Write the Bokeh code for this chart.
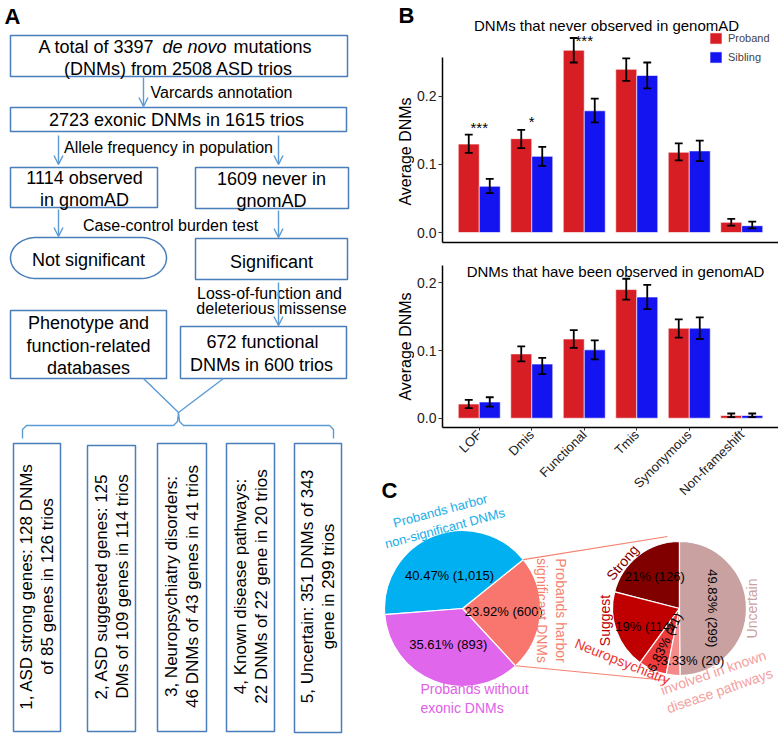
import math
import numpy as np
from bokeh.plotting import figure
from bokeh.layouts import row, column
from bokeh.models import (Range1d, FixedTicker, Legend, LegendItem,
                          Arrow, OpenHead, ColumnDataSource, PrintfTickFormatter)
from bokeh.core.properties import value
from bokeh.embed import file_html
from bokeh.resources import INLINE

FONT = "Liberation Sans"

# ---------------- data ----------------
categories = ["LOF", "Dmis", "Functional", "Tmis", "Synonymous", "Non-frameshift"]

never_proband = [0.130, 0.138, 0.268, 0.240, 0.118, 0.015]
never_proband_lo = [0.117, 0.124, 0.250, 0.223, 0.106, 0.010]
never_proband_hi = [0.144, 0.151, 0.286, 0.256, 0.131, 0.020]
never_sibling = [0.068, 0.112, 0.179, 0.231, 0.120, 0.010]
never_sibling_lo = [0.058, 0.098, 0.162, 0.212, 0.105, 0.006]
never_sibling_hi = [0.079, 0.126, 0.197, 0.250, 0.135, 0.016]

observed_proband = [0.021, 0.095, 0.117, 0.190, 0.133, 0.004]
observed_proband_lo = [0.015, 0.084, 0.104, 0.175, 0.119, 0.0015]
observed_proband_hi = [0.027, 0.106, 0.130, 0.206, 0.146, 0.007]
observed_sibling = [0.024, 0.080, 0.101, 0.179, 0.133, 0.004]
observed_sibling_lo = [0.017, 0.065, 0.087, 0.161, 0.117, 0.0015]
observed_sibling_hi = [0.031, 0.089, 0.115, 0.197, 0.149, 0.007]

significance = ["***", "*", "***", "", "", ""]
significance_y = [0.155, 0.163, 0.283, 0, 0, 0]

overview_labels = ["Probands harbor\nsignificant DNMs",
                   "Probands harbor\nnon-significant DNMs",
                   "Probands without\nexonic DNMs"]
overview_counts = [600, 1015, 893]
overview_colors = ["#f8766d", "#00b0f0", "#e066ec"]

sub_labels = ["Strong", "Suggest", "Neuropsychiatry",
              "involved in known\ndisease pathways", "Uncertain"]
sub_counts = [126, 114, 41, 20, 299]
sub_colors = ["#800000", "#c00000", "#ee3b3b", "#f48a8a", "#c9a1a1"]

RED = "#d81e25"
BLUE = "#1414f0"
BOX = "#4a7ebb"
ARW = "#5b9bd5"


def add_text(p, x, y, s, size, color="black", align="center", angle=0.0,
             style="normal", baseline="middle"):
    p.text(x=[x], y=[y], text=[s], text_font=value(FONT),
           text_font_size=value(f"{size}px"), text_color=color,
           text_align=align, text_baseline=baseline,
           angle=math.radians(angle), text_font_style=style)


def canvas(w, h, x0, x1, y0, y1, transparent=False):
    p = figure(width=w, height=h, x_range=Range1d(x0, x1), y_range=Range1d(y0, y1),
               x_axis_type=None, y_axis_type=None, output_backend="svg",
               toolbar_location=None, min_border=0, frame_align=False)
    p.grid.visible = False
    p.outline_line_color = None
    if transparent:
        p.background_fill_color = None
        p.border_fill_color = None
    return p


# ---------------- panel A : flow chart ----------------
def PA(y):
    return 740 - y


pa = canvas(380, 740, 0, 380, 0, 740)

box_l = [10, 10, 10, 195, 195, 10, 180, 13, 87, 157, 226, 294]
box_r = [347, 346, 157, 348, 347, 166, 346, 60, 135, 206, 274, 341]
box_t = [35, 107, 167, 167, 238, 310, 326, 443, 445, 443, 443, 443]
box_b = [76, 131, 207, 208, 279, 378, 378, 731, 731, 731, 731, 732]
pa.quad(left=box_l, right=box_r, top=[PA(v) for v in box_t],
        bottom=[PA(v) for v in box_b], fill_color=None, line_color=BOX, line_width=1.5)

# stadium "Not significant"
rx, ry = 26, 20.5
cyd = PA((237 + 278) / 2)
t1 = np.linspace(-np.pi / 2, np.pi / 2, 40)
t2 = np.linspace(np.pi / 2, 3 * np.pi / 2, 40)
sx = np.concatenate([(166 - rx) + rx * np.cos(t1), (10 + rx) + rx * np.cos(t2)])
sy = np.concatenate([cyd + ry * np.sin(t1), cyd + ry * np.sin(t2)])
pa.patch(sx, sy, fill_color=None, line_color=BOX, line_width=1.5)


def arrow(x0, y0, x1, y1):
    pa.add_layout(Arrow(end=OpenHead(size=9, line_color=ARW, line_width=1.4),
                        x_start=x0, y_start=PA(y0), x_end=x1, y_end=PA(y1),
                        line_color=ARW, line_width=1.4))


arrow(143, 77, 143, 106)
arrow(58, 135, 58, 164)
arrow(278, 135, 278, 164)
arrow(58, 209, 58, 236)
arrow(278, 210, 278, 237)
arrow(278, 282, 278, 325)

pa.line([143, 178, 223], [PA(378), PA(412), PA(378)], line_color=ARW, line_width=1.4)
bx = [22, 22, 26, 173, 177, 178, 179, 183, 329, 333, 333]
by = [438, 429, 425, 425, 421, 412, 421, 425, 425, 429, 438]
pa.line(bx, [PA(v) for v in by], line_color=ARW, line_width=1.4)

add_text(pa, 12, PA(16), "A", 22, style="bold")

add_text(pa, 38, PA(46), "A total of 3397 ", 18, align="left")
add_text(pa, 162, PA(46), "de novo", 18, align="left", style="italic")
add_text(pa, 233, PA(46), "mutations", 18, align="left")

big_texts = [
    ("(DNMs) from 2508 ASD trios", 178, 68),
    ("2723 exonic DNMs in 1615 trios", 176, 119),
    ("1114 observed", 84, 177), ("in gnomAD", 84, 199),
    ("1609 never in", 271, 178), ("gnomAD", 271, 200),
    ("Not significant", 88, 259),
    ("Significant", 271, 261),
    ("Phenotype and", 88, 322), ("function-related", 88, 345), ("databases", 88, 367),
    ("672 functional", 262, 341), ("DNMs in 600 trios", 261, 364),
]
for s, x, y in big_texts:
    add_text(pa, x, PA(y), s, 18)

small_texts = [
    ("Varcards annotation", 150, 92, "left"),
    ("Allele frequency in population", 168, 147, "center"),
    ("Case-control burden test", 170, 225, "center"),
    ("Loss-of-function and", 269, 293, "center"),
    ("deleterious missense", 271, 308, "center"),
]
for s, x, y, al in small_texts:
    add_text(pa, x, PA(y), s, 16, align=al)

vert_texts = [
    ("1, ASD strong genes: 128 DNMs", "of 85 genes in 126 trios"),
    ("2, ASD suggested genes: 125", "DMs of 109 genes in 114 trios"),
    ("3, Neuropsychiatry disorders:", "46 DNMs of 43 genes in 41 trios"),
    ("4, Known disease pathways:", "22 DNMs of 22 gene in 20 trios"),
    ("5, Uncertain: 351 DNMs of 343", "gene in 299 trios"),
]
for (l1, l2), left, right in zip(vert_texts, box_l[7:], box_r[7:]):
    cx = (left + right) / 2
    add_text(pa, cx - 10.5, PA(586), l1, 17, angle=90)
    add_text(pa, cx + 10.5, PA(586), l2, 17, angle=90)

# ---------------- panel B : bar charts ----------------
xs = np.arange(1, len(categories) + 1)


def bar_panel(height, y0, y1, axis_top, border_top, border_bottom,
              pro, pro_lo, pro_hi, sib, sib_lo, sib_hi):
    p = figure(width=364, height=height, x_range=Range1d(0.3, 6.70),
               y_range=Range1d(y0, y1), output_backend="svg", toolbar_location=None,
               min_border_left=26, min_border_right=0, min_border_top=border_top,
               min_border_bottom=border_bottom, frame_align=False)
    p.grid.visible = False
    p.outline_line_color = None
    rp = p.vbar(x=xs - 0.2, top=pro, width=0.4, bottom=0, fill_color=RED,
                line_color="white", line_alpha=0.6, line_width=1)
    rs = p.vbar(x=xs + 0.2, top=sib, width=0.4, bottom=0, fill_color=BLUE,
                line_color="white", line_alpha=0.6, line_width=1)
    for off, lo, hi in ((-0.2, pro_lo, pro_hi), (0.2, sib_lo, sib_hi)):
        xx = xs + off
        p.segment(x0=xx, y0=lo, x1=xx, y1=hi, line_color="black", line_width=1.8)
        p.segment(x0=xx - 0.075, y0=lo, x1=xx + 0.075, y1=lo, line_color="black", line_width=1.8)
        p.segment(x0=xx - 0.075, y0=hi, x1=xx + 0.075, y1=hi, line_color="black", line_width=1.8)
    ya = p.yaxis[0]
    ya.ticker = FixedTicker(ticks=[0, 0.1, 0.2])
    ya.formatter = PrintfTickFormatter(format="%.1f")
    ya.bounds = (y0, axis_top)
    ya.axis_line_color = "black"
    ya.axis_line_width = 1.5
    ya.major_tick_line_color = "#333333"
    ya.major_tick_in = 0
    ya.major_tick_out = 4
    ya.minor_tick_line_color = None
    ya.major_label_standoff = 2
    ya.major_label_text_font = FONT
    ya.major_label_text_font_size = "14px"
    ya.major_label_text_color = "#222222"
    xa = p.xaxis[0]
    xa.axis_line_color = "black"
    xa.axis_line_width = 1.5
    xa.minor_tick_line_color = None
    xa.major_tick_in = 0
    return p, rp, rs


p1, rp1, rs1 = bar_panel(245, -0.0147, 0.3235, 0.257, 12, 3,
                         never_proband, never_proband_lo, never_proband_hi,
                         never_sibling, never_sibling_lo, never_sibling_hi)
p1.xaxis.ticker = FixedTicker(ticks=[])
p1.xaxis.major_tick_out = 0
p1.xaxis.major_label_text_font_size = "0px"
p1.xaxis.major_label_standoff = 0

star_x = [x for x, s in zip(xs, significance) if s]
star_y = [y for y, s in zip(significance_y, significance) if s]
stars = [s for s in significance if s]
p1.text(x=star_x, y=star_y, text=stars, text_font=value(FONT),
        text_font_size=value("15px"), text_align="center", text_baseline="middle",
        text_color="black")
add_text(p1, 3.425, 0.304, "DNMs that never observed in genomAD", 15)

legend = Legend(items=[LegendItem(label="Proband", renderers=[rp1]),
                       LegendItem(label="Sibling", renderers=[rs1])],
                location=(266, 178), orientation="vertical",
                border_line_color=None, background_fill_alpha=0,
                padding=0, margin=0, spacing=5, glyph_width=15, glyph_height=14,
                label_height=14, label_standoff=5,
                label_text_font=FONT, label_text_font_size="11px")
p1.add_layout(legend)

p2, rp2, rs2 = bar_panel(262, -0.0137, 0.2403, 0.2256, 10, 80,
                         observed_proband, observed_proband_lo, observed_proband_hi,
                         observed_sibling, observed_sibling_lo, observed_sibling_hi)
p2.xaxis.ticker = FixedTicker(ticks=list(xs))
p2.xaxis.major_label_overrides = {int(x): c for x, c in zip(xs, categories)}
p2.xaxis.major_label_orientation = math.pi / 4
p2.xaxis.major_tick_out = 3
p2.xaxis.major_tick_line_color = "#333333"
p2.xaxis.major_label_standoff = 2
p2.xaxis.major_label_text_font = FONT
p2.xaxis.major_label_text_font_size = "13px"
p2.xaxis.major_label_text_color = "#222222"
add_text(p2, 3.595, 0.217, "DNMs that have been observed in genomAD", 15)

# side strips holding panel letters and y-axis titles
sb1 = canvas(34, 245, 380, 414, 0, 245)
add_text(sb1, 406, 245 - 15, "B", 22, style="bold")
add_text(sb1, 405, 245 - 151, "Average DNMs", 16, angle=90)

sb2 = canvas(34, 262, 380, 414, 0, 262)
add_text(sb2, 405, 507 - 346, "Average DNMs", 16, angle=90)
add_text(sb2, 389, 507 - 490, "C", 22, style="bold")

# ---------------- panel C : pies (transparent, slightly overlapping panel B) ----------------
def PC(y):
    return 740 - y


PC_TOP = 489
pc = canvas(398, 740 - PC_TOP, 380, 778, 0, 740 - PC_TOP, transparent=True)
pc.margin = (-(507 - PC_TOP), 0, 0, 0)


def pie(cx, cy, r, counts, colors, start_deg):
    frac = np.array(counts, dtype=float) / sum(counts)
    ends = math.radians(start_deg) + 2 * np.pi * np.cumsum(frac)
    starts = ends - 2 * np.pi * frac
    src = ColumnDataSource(dict(start=starts, end=ends, color=colors))
    pc.wedge(x=cx, y=cy, radius=r, start_angle="start", end_angle="end",
             fill_color="color", line_color="white", line_width=1.2, source=src)
    return frac, starts, ends


def pct(f):
    return ("%.2f" % (100 * f)).rstrip("0").rstrip(".") + "%"


MCX, MCY, MR = 462, PC(608), 78
SCX, SCY, SR = 679, PC(608), 67

mfrac, mst, men = pie(MCX, MCY, MR, overview_counts, overview_colors, -47.3)
sfrac, sst, sen = pie(SCX, SCY, SR, sub_counts, sub_colors, 90)

pc.line([MCX + MR * math.cos(men[0]), 667], [MCY + MR * math.sin(men[0]), PC(536)],
        line_color="#f4826f", line_width=1.1)
pc.line([MCX + MR * math.cos(mst[0]), 667], [MCY + MR * math.sin(mst[0]), PC(680)],
        line_color="#f4826f", line_width=1.1)

main_r = [0.53, 0.45, 0.5]
for f, a0, a1, c, rr in zip(mfrac, mst, men, overview_counts, main_r):
    mid = (a0 + a1) / 2
    add_text(pc, MCX + rr * MR * math.cos(mid), MCY + rr * MR * math.sin(mid),
             f"{pct(f)} ({c:,})", 13)

sub_r = [0.6, 0.55, 0.55, 0.78, 0.5]
sub_dx = [0, 0, 0, 18, 0]
sub_dy = [0, 6, 0, 0, 0]
sub_ang = [0, 0, 64, 0, -90]
for f, a0, a1, c, rr, dx, dy, an in zip(sfrac, sst, sen, sub_counts, sub_r,
                                         sub_dx, sub_dy, sub_ang):
    mid = (a0 + a1) / 2
    add_text(pc, SCX + rr * SR * math.cos(mid) + dx, SCY + rr * SR * math.sin(mid) - dy,
             f"{pct(f)} ({c})", 13, angle=an)

add_text(pc, 551, PC(610), overview_labels[0], 14, color="#f4826f", angle=-90)
add_text(pc, 442, PC(519), overview_labels[1], 13, color="#1aaee8", angle=15)
add_text(pc, 420, PC(698), overview_labels[2], 14, color="#e060e8", align="left")

sub_pos = [(622, 562, 50), (604, 620, 90), (622, 661, -22), (716, 681, 19), (751, 608, 90)]
sub_text_colors = ["#800000", "#c00000", "#ee3333", "#f4a0a0", "#c9a1a1"]
for lab, (x, y, an), col in zip(sub_labels, sub_pos, sub_text_colors):
    add_text(pc, x, PC(y), lab, 14, color=col, angle=an)

right = column(row(sb1, p1, spacing=0), row(sb2, p2, spacing=0), pc, spacing=0)
layout = row(pa, right, spacing=0)
open("out.html", "w").write(file_html(layout, INLINE))
